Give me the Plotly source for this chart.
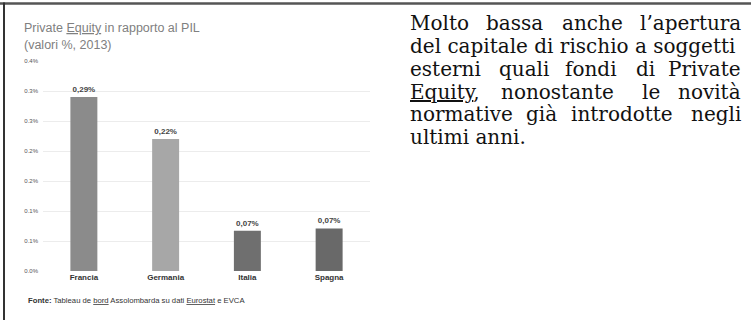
import plotly.graph_objects as go

# ---- data ----
countries = ["Francia", "Germania", "Italia", "Spagna"]
pe_gdp = [0.29, 0.22, 0.067, 0.071]          # % of GDP, 2013
bar_colors = ["#8b8b8b", "#a7a7a7", "#6f6f6f", "#696969"]
y_tickvals = [0, 0.05, 0.10, 0.15, 0.20, 0.25, 0.30, 0.35]
y_ticktext = ["0.0%", "0.1%", "0.1%", "0.2%", "0.2%", "0.3%", "0.3%", "0.4%"]

W, H = 751, 320
L, R, T, B = 43, 381, 61, 49
PW, PH = W - L - R, H - T - B


def px(x):
    return (x - L) / PW


def py(y):
    return (H - B - y) / PH


bar_text = ["<b>" + f"{v:.2f}".replace(".", ",") + "%</b>" for v in pe_gdp]

fig = go.Figure()
fig.add_trace(go.Bar(
    x=countries, y=pe_gdp, width=0.33,
    marker=dict(color=bar_colors, line=dict(width=0)),
    text=bar_text, textposition="outside", cliponaxis=False,
    textfont=dict(size=8, color="#444444", family="Liberation Sans"),
    hoverinfo="skip",
))

fig.update_layout(
    width=W, height=H,
    margin=dict(l=L, r=R, t=T, b=B, pad=0),
    paper_bgcolor="white", plot_bgcolor="white",
    showlegend=False,
    font=dict(family="Liberation Sans, Arial, sans-serif"),
    xaxis=dict(
        tickvals=countries,
        ticktext=["<b>" + c + "</b>" for c in countries],
        tickfont=dict(size=8, color="#333333"),
        showgrid=False, showline=False, zeroline=False, ticks="",
        fixedrange=True,
    ),
    yaxis=dict(
        range=[0, 0.35], tickvals=y_tickvals, ticktext=y_ticktext,
        tickfont=dict(size=6, color="#555555"),
        showgrid=True, gridcolor="#ececec", gridwidth=1,
        showline=False, zeroline=False, ticks="", ticklabelstandoff=4,
        fixedrange=True,
    ),
)

annotations = []
# chart title
annotations.append(dict(
    x=px(22), y=py(28), xref="paper", yref="paper", xanchor="left", yanchor="middle",
    text="Private <u>Equity</u> in rapporto al PIL", showarrow=False,
    font=dict(size=12.5, color="#808080", family="Liberation Sans"),
))
annotations.append(dict(
    x=px(22), y=py(45), xref="paper", yref="paper", xanchor="left", yanchor="middle",
    text="(valori %, 2013)", showarrow=False,
    font=dict(size=12.5, color="#808080", family="Liberation Sans"),
))
# source
annotations.append(dict(
    x=px(26), y=py(300), xref="paper", yref="paper", xanchor="left", yanchor="middle",
    text="<b>Fonte:</b> Tableau de <u>bord</u> Assolombarda su dati <u>Eurostat</u> e EVCA",
    showarrow=False,
    font=dict(size=7.7, color="#333333", family="Liberation Sans"),
))

# right-hand justified paragraph: words with approximate rendered widths,
# distributed so that each justified line spans LEFT..RIGHT
LEFT, RIGHT = 408, 743
para_font = dict(size=20, color="#111111", family="DejaVu Serif")
lines = [
    (23, True, [("Molto", 52), ("bassa", 53), ("anche", 59), ("l’apertura", 100)]),
    (46, False, [("del capitale di rischio a soggetti", 325)]),
    (69, True, [("esterni", 73), ("quali", 50), ("fondi", 56), ("di", 21), ("Private", 72)]),
    (92, True, [("<u>Equity</u>,", 68), ("nonostante", 119), ("le", 20), ("novità", 60)]),
    (114, True, [("normative", 107), ("già", 35), ("introdotte", 113), ("negli", 52)]),
    (137, False, [("ultimi anni.", 110)]),
]
for yy, justified, words in lines:
    if not justified:
        annotations.append(dict(
            x=px(LEFT), y=py(yy), xref="paper", yref="paper",
            xanchor="left", yanchor="middle", text=words[0][0], showarrow=False,
            font=para_font,
        ))
        continue
    total = sum(w for _, w in words)
    gap = (RIGHT - LEFT - total) / (len(words) - 1)
    xcur = LEFT
    for i, (w, wd) in enumerate(words):
        if i == len(words) - 1:
            annotations.append(dict(
                x=px(RIGHT), y=py(yy), xref="paper", yref="paper",
                xanchor="right", yanchor="middle", text=w, showarrow=False,
                font=para_font,
            ))
        else:
            annotations.append(dict(
                x=px(xcur), y=py(yy), xref="paper", yref="paper",
                xanchor="left", yanchor="middle", text=w, showarrow=False,
                font=para_font,
            ))
        xcur += wd + gap

fig.update_layout(annotations=annotations)

# frame lines (top and left)
fig.add_shape(type="line", xref="paper", yref="paper",
              x0=px(0), x1=px(W), y0=py(3.5), y1=py(3.5),
              line=dict(color="#555555", width=2.5))
fig.add_shape(type="line", xref="paper", yref="paper",
              x0=px(4), x1=px(4), y0=py(2.5), y1=py(H),
              line=dict(color="#333333", width=2))

fig.write_html("out.html")
